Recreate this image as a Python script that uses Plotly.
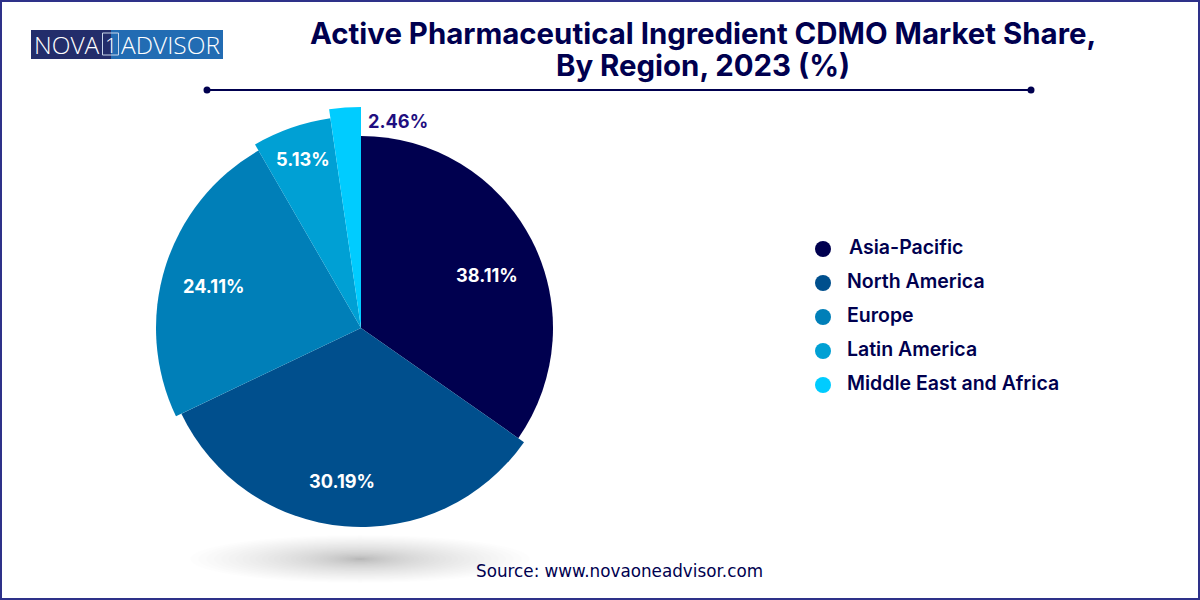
import plotly.graph_objs as go

W = 1200
H = 600

regions = ["Asia-Pacific", "North America", "Europe", "Latin America", "Middle East and Africa"]
share_labels = ["38.11%", "30.19%", "24.11%", "5.13%", "2.46%"]
# the wedges in the picture do not follow the printed shares, so these are the arcs as drawn (degrees)
drawn_arc = [125.0, 119.5, 85.5, 21.7, 8.3]
# each wedge has its own radius in the picture (px)
wedge_radius = [192, 199, 205, 212, 221]
colors = ["#00004f", "#004f8d", "#007fb8", "#00a0d4", "#00ccff"]

navy = "#00004f"
main_font = "Inter"


def px(x):
    return x / W


def py(y):
    return 1 - y / H


# middle of each wedge, clockwise from the top
theta = []
start = 0
for arc in drawn_arc:
    theta.append(start + arc / 2)
    start += arc

pie = go.Barpolar(
    r=wedge_radius,
    theta=theta,
    width=drawn_arc,
    marker=dict(color=colors, line=dict(width=0)),
    showlegend=False,
    hoverinfo="skip",
)

legend_dots = go.Scatter(
    x=[0, 0, 0, 0, 0],
    y=regions,
    mode="markers",
    marker=dict(color=colors, size=16),
    showlegend=False,
    hoverinfo="skip",
)

legend_text = go.Scatter(
    x=[26, 24, 24, 24, 24],
    y=regions,
    mode="text",
    text=regions,
    textposition="middle right",
    textfont=dict(family=main_font, size=19.5, color=navy, weight=600),
    showlegend=False,
    hoverinfo="skip",
)

fig = go.Figure(data=[pie, legend_dots, legend_text])

# soft shadow under the pie
shapes = []
steps = 40
for i in range(steps):
    t = 1 - i / steps
    rx = 170 * t ** 1.9
    ry = 24 * t ** 1.7
    shapes.append(dict(type="circle", xref="paper", yref="paper", layer="below",
                       x0=px(360 - rx), x1=px(360 + rx), y0=py(559 + ry), y1=py(559 - ry),
                       fillcolor="black", opacity=0.0075, line=dict(width=0)))

# frame
shapes.append(dict(type="rect", xref="paper", yref="paper", x0=0, x1=1, y0=0, y1=1,
                   fillcolor="rgba(0,0,0,0)", line=dict(color="#2e3189", width=4)))

# rule under title
shapes.append(dict(type="line", xref="paper", yref="paper", x0=px(207), x1=px(1031), y0=py(90), y1=py(90),
                   line=dict(color=navy, width=2)))
for cx in [207, 1031]:
    shapes.append(dict(type="circle", xref="paper", yref="paper", x0=px(cx - 3.5), x1=px(cx + 3.5),
                       y0=py(90 + 3.5), y1=py(90 - 3.5), fillcolor=navy, line=dict(width=0)))

# logo
shapes.append(dict(type="rect", xref="paper", yref="paper", x0=px(31), x1=px(111), y0=py(59), y1=py(30),
                   fillcolor="#232d6b", line=dict(width=0), layer="below"))
shapes.append(dict(type="rect", xref="paper", yref="paper", x0=px(111), x1=px(223), y0=py(59), y1=py(30),
                   fillcolor="#226cb3", line=dict(width=0), layer="below"))
shapes.append(dict(type="rect", xref="paper", yref="paper", x0=px(102.5), x1=px(118.5), y0=py(55), y1=py(33),
                   fillcolor="rgba(0,0,0,0)", line=dict(color="#c9d6ea", width=1)))

annotations = []


def add_text(x, y, text, size, color, weight=400, family=main_font, anchor="center"):
    annotations.append(dict(xref="paper", yref="paper", x=px(x), y=py(y), text=text, showarrow=False,
                            xanchor=anchor, yanchor="middle",
                            font=dict(family=family, size=size, color=color, weight=weight)))


add_text(702.5, 33, "Active Pharmaceutical Ingredient CDMO Market Share,", 29.4, navy, 700)
add_text(702.5, 66, "By Region, 2023 (%)", 29.4, navy, 700)
add_text(619, 571, "Source: www.novaoneadvisor.com", 16.8, navy, 400, "DejaVu Sans")

add_text(67, 45, "NOVA", 24.5, "white", 300, "Open Sans")
add_text(110.5, 45, "1", 21, "white", 300, "Open Sans")
add_text(170.5, 45, "ADVISOR", 24.5, "white", 300, "Open Sans")

# value labels
label_x = [487, 342, 213, 303, 398]
label_y = [275, 481, 286, 159, 121]
label_colors = ["white", "white", "white", "white", "#1f0f80"]
for i in range(len(share_labels)):
    add_text(label_x[i], label_y[i], share_labels[i], 18.2, label_colors[i], 700)

fig.update_layout(
    width=W,
    height=H,
    autosize=False,
    margin=dict(l=0, r=0, t=0, b=0),
    paper_bgcolor="white",
    plot_bgcolor="rgba(0,0,0,0)",
    shapes=shapes,
    annotations=annotations,
    polar=dict(
        domain=dict(x=[px(361 - 230), px(361 + 230)], y=[py(328 + 230), py(328 - 230)]),
        bgcolor="rgba(0,0,0,0)",
        radialaxis=dict(range=[0, 230], visible=False),
        angularaxis=dict(direction="clockwise", rotation=90, visible=False),
        bargap=0,
    ),
    xaxis=dict(domain=[px(815), px(1075)], range=[-8, 252], visible=False, fixedrange=True),
    yaxis=dict(domain=[py(402), py(232)], type="category", categoryorder="array", categoryarray=regions,
               range=[4.5, -0.5], visible=False, fixedrange=True),
)

# page margin would push the figure 8px off the window
fig.write_html("out.html", config=dict(displayModeBar=False),
               post_script="document.body.style.margin='0';document.body.style.overflow='hidden';")
